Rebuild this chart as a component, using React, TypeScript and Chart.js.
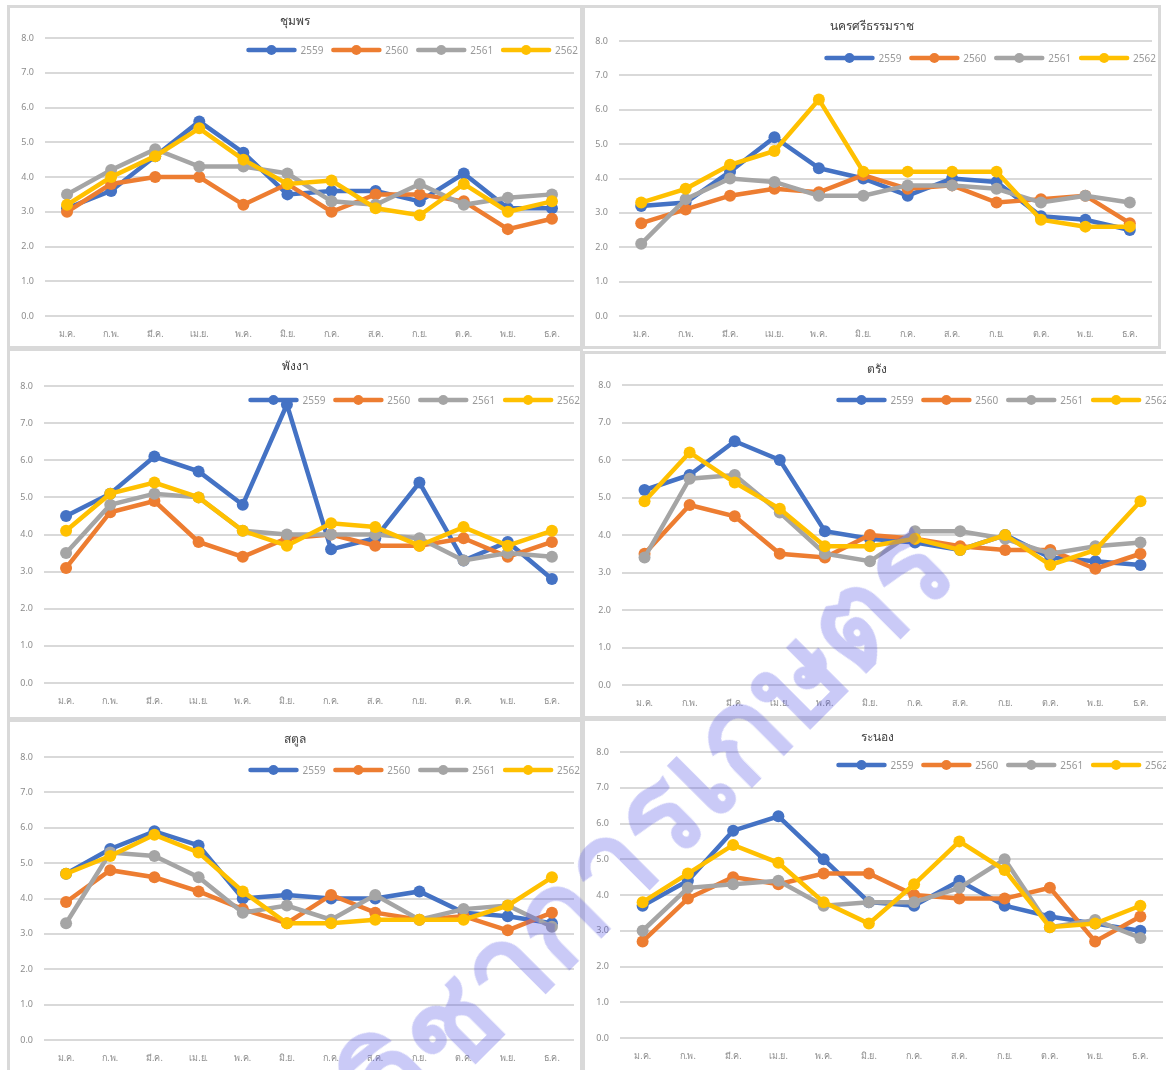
import React, { useEffect, useRef } from "react";
import { Chart, registerables } from "chart.js";

Chart.register(...registerables);

// ---------- data ----------
const MONTHS = ["ม.ค.", "ก.พ.", "มี.ค.", "เม.ย.", "พ.ค.", "มิ.ย.", "ก.ค.", "ส.ค.", "ก.ย.", "ต.ค.", "พ.ย.", "ธ.ค."];
const YEARS = ["2559", "2560", "2561", "2562"];
const Y_MIN = 0;
const Y_MAX = 8;
const Y_STEP = 1;

const chumphon2559 = [3.1, 3.6, 4.6, 5.6, 4.7, 3.5, 3.6, 3.6, 3.3, 4.1, 3.1, 3.1];
const chumphon2560 = [3.0, 3.8, 4.0, 4.0, 3.2, 3.8, 3.0, 3.5, 3.5, 3.3, 2.5, 2.8];
const chumphon2561 = [3.5, 4.2, 4.8, 4.3, 4.3, 4.1, 3.3, 3.2, 3.8, 3.2, 3.4, 3.5];
const chumphon2562 = [3.2, 4.0, 4.6, 5.4, 4.5, 3.8, 3.9, 3.1, 2.9, 3.8, 3.0, 3.3];

const nakhon2559 = [3.2, 3.3, 4.2, 5.2, 4.3, 4.0, 3.5, 4.0, 3.9, 2.9, 2.8, 2.5];
const nakhon2560 = [2.7, 3.1, 3.5, 3.7, 3.6, 4.1, 3.7, 3.8, 3.3, 3.4, 3.5, 2.7];
const nakhon2561 = [2.1, 3.4, 4.0, 3.9, 3.5, 3.5, 3.8, 3.8, 3.7, 3.3, 3.5, 3.3];
const nakhon2562 = [3.3, 3.7, 4.4, 4.8, 6.3, 4.2, 4.2, 4.2, 4.2, 2.8, 2.6, 2.6];

const phangnga2559 = [4.5, 5.1, 6.1, 5.7, 4.8, 7.5, 3.6, 3.9, 5.4, 3.3, 3.8, 2.8];
const phangnga2560 = [3.1, 4.6, 4.9, 3.8, 3.4, 3.9, 4.0, 3.7, 3.7, 3.9, 3.4, 3.8];
const phangnga2561 = [3.5, 4.8, 5.1, 5.0, 4.1, 4.0, 4.0, 4.0, 3.9, 3.3, 3.5, 3.4];
const phangnga2562 = [4.1, 5.1, 5.4, 5.0, 4.1, 3.7, 4.3, 4.2, 3.7, 4.2, 3.7, 4.1];

const trang2559 = [5.2, 5.6, 6.5, 6.0, 4.1, 3.9, 3.8, 3.6, 4.0, 3.4, 3.3, 3.2];
const trang2560 = [3.5, 4.8, 4.5, 3.5, 3.4, 4.0, 3.9, 3.7, 3.6, 3.6, 3.1, 3.5];
const trang2561 = [3.4, 5.5, 5.6, 4.6, 3.5, 3.3, 4.1, 4.1, 3.9, 3.5, 3.7, 3.8];
const trang2562 = [4.9, 6.2, 5.4, 4.7, 3.7, 3.7, 3.9, 3.6, 4.0, 3.2, 3.6, 4.9];

const satun2559 = [4.7, 5.4, 5.9, 5.5, 4.0, 4.1, 4.0, 4.0, 4.2, 3.6, 3.5, 3.3];
const satun2560 = [3.9, 4.8, 4.6, 4.2, 3.7, 3.3, 4.1, 3.6, 3.4, 3.5, 3.1, 3.6];
const satun2561 = [3.3, 5.3, 5.2, 4.6, 3.6, 3.8, 3.4, 4.1, 3.4, 3.7, 3.8, 3.2];
const satun2562 = [4.7, 5.2, 5.8, 5.3, 4.2, 3.3, 3.3, 3.4, 3.4, 3.4, 3.8, 4.6];

const ranong2559 = [3.7, 4.4, 5.8, 6.2, 5.0, 3.8, 3.7, 4.4, 3.7, 3.4, 3.2, 3.0];
const ranong2560 = [2.7, 3.9, 4.5, 4.3, 4.6, 4.6, 4.0, 3.9, 3.9, 4.2, 2.7, 3.4];
const ranong2561 = [3.0, 4.2, 4.3, 4.4, 3.7, 3.8, 3.8, 4.2, 5.0, 3.1, 3.3, 2.8];
const ranong2562 = [3.8, 4.6, 5.4, 4.9, 3.8, 3.2, 4.3, 5.5, 4.7, 3.1, 3.2, 3.7];

const WATERMARK = "วิชาการเกษตร";

// ---------- styles ----------
const COLORS = ["#4472C4", "#ED7D31", "#A5A5A5", "#FFC000"];
const BORDER = 3;
const FONT = "'Noto Sans', 'Liberation Sans', sans-serif";

type Box = { x: number; y: number; w: number; h: number };
type Plot = { left: number; right: number; top: number; bottom: number };
type PanelCfg = {
  title: string;
  series: number[][];
  box: Box;
  plot: Plot;
  titleY: number;
  legendY: number;
  legendRight: number;
};

const PANELS: PanelCfg[] = [
  {
    title: "ชุมพร",
    series: [chumphon2559, chumphon2560, chumphon2561, chumphon2562],
    box: { x: 7, y: 5, w: 576, h: 344 },
    plot: { left: 45, right: 580, top: 38, bottom: 316 },
    titleY: 22,
    legendY: 50,
    legendRight: 578,
  },
  {
    title: "นครศรีธรรมราช",
    series: [nakhon2559, nakhon2560, nakhon2561, nakhon2562],
    box: { x: 582, y: 5, w: 579, h: 344 },
    plot: { left: 619, right: 1158, top: 41, bottom: 316 },
    titleY: 27,
    legendY: 58,
    legendRight: 1156,
  },
  {
    title: "พังงา",
    series: [phangnga2559, phangnga2560, phangnga2561, phangnga2562],
    box: { x: 7, y: 348, w: 576, h: 372 },
    plot: { left: 44, right: 581, top: 386, bottom: 683 },
    titleY: 367,
    legendY: 400,
    legendRight: 580,
  },
  {
    title: "ตรัง",
    series: [trang2559, trang2560, trang2561, trang2562],
    box: { x: 582, y: 351, w: 590, h: 368 },
    plot: { left: 622, right: 1167, top: 385, bottom: 685 },
    titleY: 370,
    legendY: 400,
    legendRight: 1168,
  },
  {
    title: "สตูล",
    series: [satun2559, satun2560, satun2561, satun2562],
    box: { x: 7, y: 719, w: 576, h: 362 },
    plot: { left: 44, right: 581, top: 757, bottom: 1040 },
    titleY: 740,
    legendY: 770,
    legendRight: 580,
  },
  {
    title: "ระนอง",
    series: [ranong2559, ranong2560, ranong2561, ranong2562],
    box: { x: 582, y: 718, w: 590, h: 362 },
    plot: { left: 620, right: 1168, top: 752, bottom: 1038 },
    titleY: 738,
    legendY: 765,
    legendRight: 1168,
  },
];

function Panel({ cfg }: { cfg: PanelCfg }) {
  const ref = useRef<HTMLCanvasElement | null>(null);
  const innerX = cfg.box.x + BORDER;
  const innerY = cfg.box.y + BORDER;
  const W = cfg.box.w - 2 * BORDER;
  const H = cfg.box.h - 2 * BORDER;

  useEffect(() => {
    if (!ref.current) return;
    const padTop = cfg.plot.top - innerY;
    const padRight = Math.max(0, innerX + W - cfg.plot.right);
    const yWidth = cfg.plot.left - innerX;
    const xHeight = innerY + H - cfg.plot.bottom;

    const overlay = {
      id: "titleLegend",
      afterDraw(chart: any) {
        const ctx = chart.ctx;
        ctx.save();
        // title
        ctx.font = `12px ${FONT}`;
        ctx.fillStyle = "#404040";
        ctx.textAlign = "center";
        ctx.textBaseline = "middle";
        ctx.fillText(cfg.title, cfg.box.x + cfg.box.w / 2 - innerX, cfg.titleY - innerY);
        // legend (right aligned)
        const lineLen = 50;
        const gap = 4;
        const itemGap = 8;
        ctx.font = `10px ${FONT}`;
        const widths = YEARS.map((y) => ctx.measureText(y).width);
        const total = widths.reduce((a, b) => a + b + lineLen + gap, 0) + itemGap * (YEARS.length - 1);
        let x = cfg.legendRight - innerX - total;
        const ly = cfg.legendY - innerY;
        YEARS.forEach((yr, i) => {
          ctx.strokeStyle = COLORS[i];
          ctx.lineWidth = 4.5;
          ctx.lineCap = "round";
          ctx.beginPath();
          ctx.moveTo(x + 2, ly);
          ctx.lineTo(x + lineLen - 2, ly);
          ctx.stroke();
          ctx.fillStyle = COLORS[i];
          ctx.beginPath();
          ctx.arc(x + lineLen / 2, ly, 5, 0, Math.PI * 2);
          ctx.fill();
          ctx.fillStyle = "#999999";
          ctx.textAlign = "left";
          ctx.textBaseline = "middle";
          ctx.fillText(yr, x + lineLen + gap, ly + 1);
          x += lineLen + gap + widths[i] + itemGap;
        });
        ctx.restore();
      },
    };

    const chart = new Chart(ref.current, {
      type: "line",
      data: {
        labels: MONTHS,
        datasets: cfg.series.map((d, i) => ({
          label: YEARS[i],
          data: d,
          borderColor: COLORS[i],
          backgroundColor: COLORS[i],
          pointBackgroundColor: COLORS[i],
          pointBorderColor: COLORS[i],
          borderWidth: 4.5,
          pointRadius: 6,
          pointBorderWidth: 0,
          tension: 0,
          order: YEARS.length - 1 - i,
        })),
      },
      options: {
        animation: false,
        responsive: false,
        maintainAspectRatio: false,
        devicePixelRatio: 1,
        layout: { padding: { top: padTop, right: padRight, left: 0, bottom: 0 } },
        plugins: {
          legend: { display: false },
          title: { display: false },
          tooltip: { enabled: false },
        },
        scales: {
          x: {
            offset: true,
            grid: { display: false, drawTicks: false },
            border: { display: false },
            ticks: {
              color: "#8c8c8c",
              font: { size: 9, family: FONT },
              padding: 13,
              maxRotation: 0,
              autoSkip: false,
            },
            afterFit: (s: any) => {
              s.height = xHeight;
            },
          },
          y: {
            min: Y_MIN,
            max: Y_MAX,
            ticks: {
              stepSize: Y_STEP,
              color: "#8c8c8c",
              font: { size: 9, family: FONT },
              padding: 11,
              callback: (v: any) => Number(v).toFixed(1),
            },
            grid: { color: "#d9d9d9", lineWidth: 2, drawTicks: false },
            border: { display: false },
            afterFit: (s: any) => {
              s.width = yWidth;
            },
          },
        },
      },
      plugins: [overlay],
    });
    return () => chart.destroy();
  }, []);

  return (
    <div
      style={{
        position: "absolute",
        left: cfg.box.x,
        top: cfg.box.y,
        width: cfg.box.w - 2 * BORDER,
        height: cfg.box.h - 2 * BORDER,
        border: `${BORDER}px solid #d9d9d9`,
        background: "#fff",
      }}
    >
      <canvas ref={ref} width={W} height={H} style={{ display: "block", width: W, height: H }} />
    </div>
  );
}

export default function App() {
  return (
    <div
      style={{
        position: "absolute",
        left: 0,
        top: 0,
        width: 1166,
        height: 1070,
        overflow: "hidden",
        background: "#fff",
      }}
    >
      {PANELS.map((p, i) => (
        <Panel key={i} cfg={p} />
      ))}
      <div
        style={{
          position: "absolute",
          left: 650,
          top: 825,
          transform: "translate(-50%, -50%) rotate(-45deg)",
          color: "rgba(80,80,230,0.3)",
          fontSize: 126,
          fontWeight: 700,
          fontFamily: "sans-serif",
          whiteSpace: "nowrap",
          pointerEvents: "none",
          lineHeight: 1,
        }}
      >
        {WATERMARK}
      </div>
    </div>
  );
}
